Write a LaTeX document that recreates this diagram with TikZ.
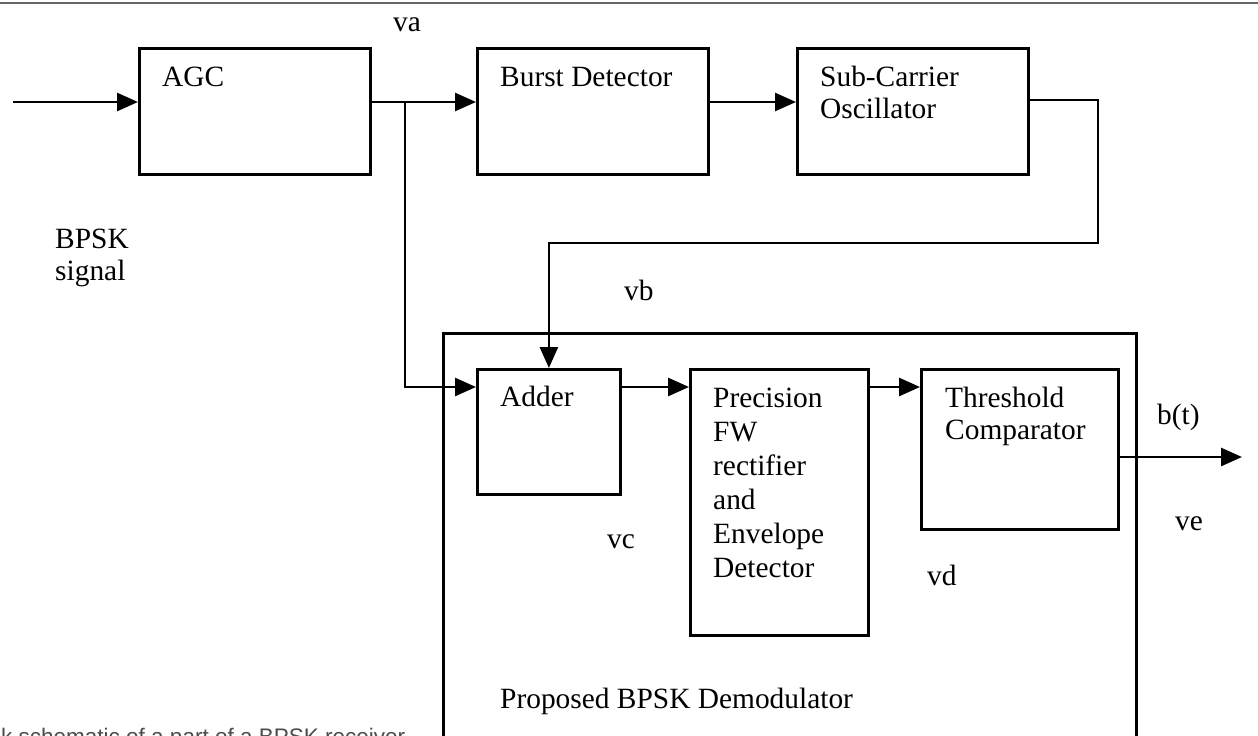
\documentclass[tikz,border=0pt]{standalone}
\usepackage{fontspec}
\setmainfont{Liberation Serif}
\newfontfamily\capfont{Liberation Sans}
\usetikzlibrary{arrows.meta}
\begin{document}
\begin{tikzpicture}[x=1pt,y=-1pt,
  blk/.style={draw, line width=2.8pt, inner sep=0pt, anchor=north west},
  arr/.style={line width=2.8pt, -{Triangle[length=21pt,width=18pt]}},
  txt/.style={font=\fontsize{29.4}{34}\selectfont, anchor=base west, inner sep=0pt, align=left},
  txtb/.style={font=\fontsize{29.4}{32}\selectfont, anchor=base west, inner sep=0pt, align=left},
  captxt/.style={font=\capfont\fontsize{22.5}{26}\selectfont, text=black!70, anchor=base west, inner sep=0pt}
]
\useasboundingbox (0,0) rectangle (1258,736);
\clip (0,0) rectangle (1258,736);
\fill[white] (0,0) rectangle (1258,736);

% top rule
\coordinate (tl) at (0,3);
\coordinate (tr) at (1258,3);
\draw[line width=1.8pt, black!60] (tl) -- (tr);

% blocks
\node[blk, minimum width=231pt, minimum height=126pt] (agc) at (138,47) {};
\node[blk, minimum width=231pt, minimum height=126pt] (burst) at (476,47) {};
\node[blk, minimum width=231pt, minimum height=126pt] (sco) at (796,47) {};
\node[blk, minimum width=693pt, minimum height=408pt] (demod) at (442,332) {};
\node[blk, minimum width=143pt, minimum height=125pt] (adder) at (476,368) {};
\node[blk, minimum width=178pt, minimum height=266pt] (prec) at (689,368) {};
\node[blk, minimum width=197pt, minimum height=160pt] (thr) at (920,368) {};

% block texts (multi-line nodes: base = last line)
\node[txt] (tagc) at (162,86) {AGC};
\node[txt] (tburst) at (500,86) {Burst Detector};
\node[txtb] (tsco) at (820,118) {Sub-Carrier\\Oscillator};
\node[txt] (tadder) at (500,406) {Adder};
\node[txt] (tprec) at (713,577) {Precision\\FW\\rectifier\\and\\Envelope\\Detector};
\node[txtb] (tthr) at (945,439) {Threshold\\Comparator};
\node[txt] (tdemod) at (500,708) {Proposed BPSK Demodulator};

% signal labels
\node[txtb] (tbpsk) at (55,280) {BPSK\\signal};
\node[txt] (lva) at (393,31) {va};
\node[txt] (lvb) at (624,300) {vb};
\node[txt] (lvc) at (607,548) {vc};
\node[txt] (lvd) at (927,585) {vd};
\node[txt] (lve) at (1175,530) {ve};
\node[txt] (lbt) at (1157,424) {b(t)};

% caption (cut at bottom, as in the reference)
\node[captxt] (cap) at (1,744) {k schematic of a part of a BPSK receiver};

% connectors
\coordinate (in) at (13,102);
\coordinate (br) at (405,102);
\coordinate (brd) at (405,387);
\coordinate (fb1) at (1098,100);
\coordinate (fb2) at (1098,243);
\coordinate (out) at (1242,457);

\draw[arr] (in) -- (in -| agc.west);
\draw[arr] (agc.east |- br) -- (burst.west |- br);
\draw[arr] (br) -- (brd) -- (adder.west |- brd);
\draw[arr] (burst.east |- br) -- (sco.west |- br);
\draw[arr] (sco.east |- fb1) -- (fb1) -- (fb2) -| (adder.north);
\draw[arr] (adder.east |- brd) -- (prec.west |- brd);
\draw[arr] (prec.east |- brd) -- (thr.west |- brd);
\draw[arr] (thr.east |- out) -- (out);
\end{tikzpicture}
\end{document}
